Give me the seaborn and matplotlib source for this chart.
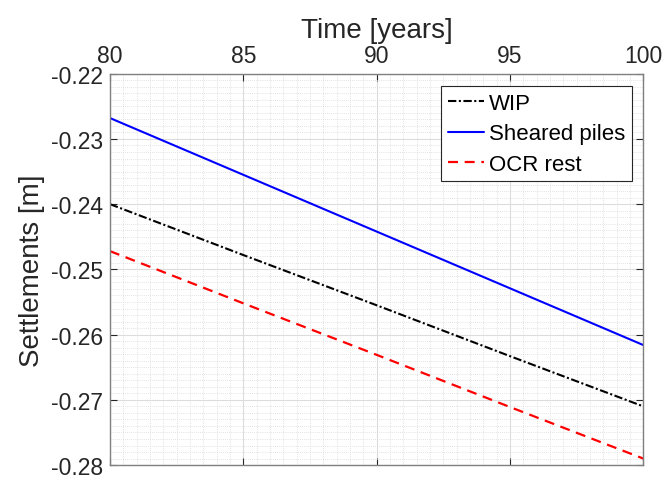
import matplotlib
matplotlib.use("Agg")
import matplotlib.pyplot as plt
from matplotlib.ticker import MultipleLocator
import pandas as pd
import seaborn as sns

# Settlement predictions over the late service life
years = [80, 85, 90, 95, 100]
wip = [-0.2400, -0.2478, -0.2555, -0.2633, -0.2710]
sheared_piles = [-0.2268, -0.2355, -0.2442, -0.2529, -0.2616]
ocr_rest = [-0.2472, -0.2552, -0.2631, -0.2711, -0.2790]

x_ticks = [80, 85, 90, 95, 100]
y_ticks = [-0.28, -0.27, -0.26, -0.25, -0.24, -0.23, -0.22]

sns.set_theme(style="white")
plt.rcParams["font.family"] = ["Liberation Sans", "DejaVu Sans"]

text_col = "#262626"

df = pd.DataFrame({
    "Time": years * 3,
    "Settlement": wip + sheared_piles + ocr_rest,
    "Case": ["WIP"] * len(years) + ["Sheared piles"] * len(years) + ["OCR rest"] * len(years),
})

fig = plt.figure(figsize=(6.65, 4.81), dpi=100)
ax = fig.add_axes([0.1654, 0.031, 0.9674 - 0.1654, 0.8447 - 0.031])

styles = {
    "WIP": dict(color="black", linewidth=1.5, dashes=(4, 1.2, 1, 1.2)),
    "Sheared piles": dict(color="blue", linewidth=1.5),
    "OCR rest": dict(color="red", linewidth=1.6, dashes=(4.5, 3)),
}
for case in ["WIP", "Sheared piles", "OCR rest"]:
    sub = df[df["Case"] == case]
    sns.lineplot(data=sub, x="Time", y="Settlement", ax=ax, label=case, **styles[case])

ax.set_xlim(80, 100)
ax.set_ylim(-0.28, -0.22)
ax.set_xticks(x_ticks)
ax.set_yticks(y_ticks)
ax.set_yticklabels([f"{v:.2f}" for v in y_ticks])
ax.xaxis.set_minor_locator(MultipleLocator(0.5))
ax.yaxis.set_minor_locator(MultipleLocator(0.001))

ax.xaxis.tick_top()
ax.xaxis.set_label_position("top")
ax.tick_params(which="both", direction="in", top=True, bottom=True, left=True, right=True,
               labeltop=True, labelbottom=False, colors=text_col)
ax.tick_params(which="major", length=5, width=0.8, labelsize=16.5, pad=5)
ax.tick_params(which="minor", length=0)

ax.grid(which="major", color="#dcdcdc", linewidth=0.8, linestyle="-")
ax.grid(which="minor", color="#d9d9d9", linewidth=0.6, linestyle=(0, (1, 1.5)))
ax.set_axisbelow(True)

for s in ax.spines.values():
    s.set_color("#808080")
    s.set_linewidth(1.0)

ax.set_xlabel("Time [years]", fontsize=20, color=text_col, labelpad=5)
ax.set_ylabel("Settlements [m]", fontsize=20, color=text_col, labelpad=4)

leg = ax.legend(loc="upper right", bbox_to_anchor=(631.7 / 665, 1 - 87.3 / 481),
                bbox_transform=fig.transFigure, fontsize=16, frameon=True, fancybox=False,
                framealpha=1, edgecolor="#262626", handlelength=1.65, handletextpad=0.2,
                labelspacing=0.42, borderpad=0.3, borderaxespad=0)
leg.get_frame().set_linewidth(0.8)
for t in leg.get_texts():
    t.set_color("black")

fig.savefig("out.png", dpi=100)
